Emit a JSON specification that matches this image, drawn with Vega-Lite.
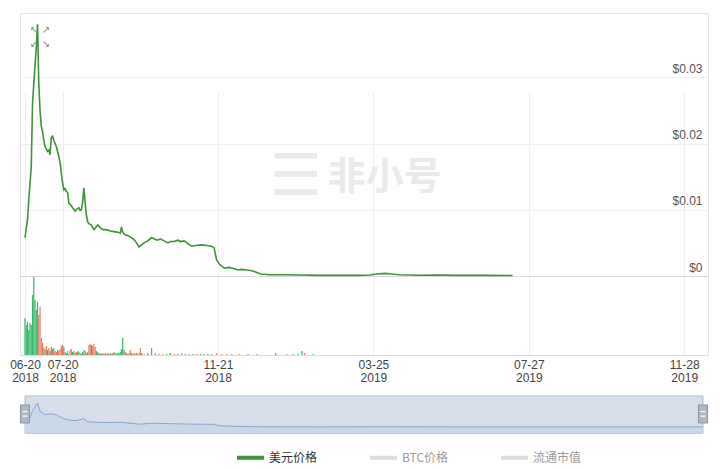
{
  "$schema": "https://vega.github.io/schema/vega-lite/v6.json",
  "width": 688,
  "height": 342,
  "autosize": {"type": "none"},
  "padding": {"left": 20, "top": 13, "right": 12, "bottom": 114},
  "background": "white",
  "config": {"view": {"stroke": "#e4e4e4"}, "font": "Liberation Sans"},
  "datasets": {
    "price": [
      {"date": "2018-06-20", "price": 0.0058}, {"date": "2018-06-21", "price": 0.0072}, {"date": "2018-06-22", "price": 0.0085},
      {"date": "2018-06-23", "price": 0.0115}, {"date": "2018-06-24", "price": 0.014}, {"date": "2018-06-25", "price": 0.0165},
      {"date": "2018-06-26", "price": 0.026}, {"date": "2018-06-27", "price": 0.029}, {"date": "2018-06-28", "price": 0.0317},
      {"date": "2018-06-29", "price": 0.0345}, {"date": "2018-06-30", "price": 0.038}, {"date": "2018-07-01", "price": 0.029},
      {"date": "2018-07-02", "price": 0.025}, {"date": "2018-07-03", "price": 0.0226}, {"date": "2018-07-04", "price": 0.0218},
      {"date": "2018-07-05", "price": 0.0205}, {"date": "2018-07-06", "price": 0.0195}, {"date": "2018-07-07", "price": 0.0192},
      {"date": "2018-07-08", "price": 0.0188}, {"date": "2018-07-09", "price": 0.019}, {"date": "2018-07-10", "price": 0.0183},
      {"date": "2018-07-11", "price": 0.0209}, {"date": "2018-07-12", "price": 0.0211}, {"date": "2018-07-13", "price": 0.0205},
      {"date": "2018-07-14", "price": 0.02}, {"date": "2018-07-15", "price": 0.0195}, {"date": "2018-07-16", "price": 0.0188},
      {"date": "2018-07-17", "price": 0.018}, {"date": "2018-07-18", "price": 0.0171}, {"date": "2018-07-19", "price": 0.0155},
      {"date": "2018-07-20", "price": 0.014}, {"date": "2018-07-21", "price": 0.013}, {"date": "2018-07-22", "price": 0.0132},
      {"date": "2018-07-23", "price": 0.0128}, {"date": "2018-07-24", "price": 0.0126}, {"date": "2018-07-25", "price": 0.011},
      {"date": "2018-07-26", "price": 0.0108}, {"date": "2018-07-27", "price": 0.0106}, {"date": "2018-07-28", "price": 0.0103},
      {"date": "2018-07-29", "price": 0.0101}, {"date": "2018-07-30", "price": 0.0098}, {"date": "2018-07-31", "price": 0.01},
      {"date": "2018-08-01", "price": 0.0102}, {"date": "2018-08-02", "price": 0.0103}, {"date": "2018-08-03", "price": 0.0099},
      {"date": "2018-08-04", "price": 0.01}, {"date": "2018-08-05", "price": 0.0112}, {"date": "2018-08-06", "price": 0.0133},
      {"date": "2018-08-07", "price": 0.011}, {"date": "2018-08-08", "price": 0.0092}, {"date": "2018-08-09", "price": 0.0082},
      {"date": "2018-08-10", "price": 0.0079}, {"date": "2018-08-12", "price": 0.0077}, {"date": "2018-08-14", "price": 0.007},
      {"date": "2018-08-15", "price": 0.0072}, {"date": "2018-08-17", "price": 0.0077}, {"date": "2018-08-19", "price": 0.0073},
      {"date": "2018-08-21", "price": 0.007}, {"date": "2018-08-24", "price": 0.007}, {"date": "2018-08-27", "price": 0.0068},
      {"date": "2018-08-30", "price": 0.0067}, {"date": "2018-09-02", "price": 0.0066}, {"date": "2018-09-04", "price": 0.0065},
      {"date": "2018-09-05", "price": 0.0074}, {"date": "2018-09-06", "price": 0.0066}, {"date": "2018-09-08", "price": 0.0062},
      {"date": "2018-09-10", "price": 0.0061}, {"date": "2018-09-12", "price": 0.0059}, {"date": "2018-09-15", "price": 0.0055},
      {"date": "2018-09-17", "price": 0.005}, {"date": "2018-09-19", "price": 0.0044}, {"date": "2018-09-21", "price": 0.0047},
      {"date": "2018-09-23", "price": 0.005}, {"date": "2018-09-26", "price": 0.0053}, {"date": "2018-09-29", "price": 0.0058},
      {"date": "2018-10-02", "price": 0.0055}, {"date": "2018-10-04", "price": 0.0054}, {"date": "2018-10-06", "price": 0.0056},
      {"date": "2018-10-09", "price": 0.0053}, {"date": "2018-10-12", "price": 0.005}, {"date": "2018-10-14", "price": 0.0052},
      {"date": "2018-10-17", "price": 0.0052}, {"date": "2018-10-20", "price": 0.0054}, {"date": "2018-10-22", "price": 0.0052},
      {"date": "2018-10-25", "price": 0.0053}, {"date": "2018-10-28", "price": 0.0049}, {"date": "2018-10-31", "price": 0.0045},
      {"date": "2018-11-03", "price": 0.0046}, {"date": "2018-11-08", "price": 0.0047}, {"date": "2018-11-12", "price": 0.0046},
      {"date": "2018-11-16", "price": 0.0045}, {"date": "2018-11-18", "price": 0.0042}, {"date": "2018-11-19", "price": 0.0032},
      {"date": "2018-11-20", "price": 0.0024}, {"date": "2018-11-22", "price": 0.0018}, {"date": "2018-11-24", "price": 0.0015},
      {"date": "2018-11-26", "price": 0.0012}, {"date": "2018-11-30", "price": 0.0013}, {"date": "2018-12-04", "price": 0.0011},
      {"date": "2018-12-07", "price": 0.0009}, {"date": "2018-12-10", "price": 0.001}, {"date": "2018-12-14", "price": 0.0009},
      {"date": "2018-12-18", "price": 0.0008}, {"date": "2018-12-21", "price": 0.0006}, {"date": "2018-12-25", "price": 0.0003},
      {"date": "2019-01-01", "price": 0.0002}, {"date": "2019-01-05", "price": 0.0002}, {"date": "2019-01-15", "price": 0.00018},
      {"date": "2019-01-26", "price": 0.00015}, {"date": "2019-02-11", "price": 0.0001}, {"date": "2019-02-26", "price": 0.0001},
      {"date": "2019-03-14", "price": 0.0001}, {"date": "2019-03-22", "price": 0.00015}, {"date": "2019-03-28", "price": 0.0003},
      {"date": "2019-04-03", "price": 0.0004}, {"date": "2019-04-08", "price": 0.0003}, {"date": "2019-04-15", "price": 0.0002},
      {"date": "2019-04-30", "price": 0.00012}, {"date": "2019-05-16", "price": 0.00015}, {"date": "2019-06-01", "price": 0.0001},
      {"date": "2019-06-24", "price": 0.0001}, {"date": "2019-07-14", "price": 0.00008}
    ],
    "volume": [
      {"date": "2018-06-20", "volume": 185000, "dir": "up"}, {"date": "2018-06-21", "volume": 150000, "dir": "up"},
      {"date": "2018-06-22", "volume": 165000, "dir": "up"}, {"date": "2018-06-23", "volume": 125000, "dir": "up"},
      {"date": "2018-06-24", "volume": 160000, "dir": "up"}, {"date": "2018-06-25", "volume": 150000, "dir": "up"},
      {"date": "2018-06-26", "volume": 300000, "dir": "up"}, {"date": "2018-06-27", "volume": 390000, "dir": "up"},
      {"date": "2018-06-28", "volume": 275000, "dir": "up"}, {"date": "2018-06-29", "volume": 225000, "dir": "up"},
      {"date": "2018-06-30", "volume": 265000, "dir": "up"}, {"date": "2018-07-01", "volume": 200000, "dir": "down"},
      {"date": "2018-07-02", "volume": 240000, "dir": "down"}, {"date": "2018-07-03", "volume": 85000, "dir": "down"},
      {"date": "2018-07-04", "volume": 60000, "dir": "down"}, {"date": "2018-07-05", "volume": 40000, "dir": "down"},
      {"date": "2018-07-06", "volume": 30000, "dir": "up"}, {"date": "2018-07-07", "volume": 45000, "dir": "down"},
      {"date": "2018-07-08", "volume": 25000, "dir": "up"}, {"date": "2018-07-09", "volume": 35000, "dir": "down"},
      {"date": "2018-07-10", "volume": 20000, "dir": "up"}, {"date": "2018-07-11", "volume": 40000, "dir": "up"},
      {"date": "2018-07-12", "volume": 30000, "dir": "down"}, {"date": "2018-07-13", "volume": 35000, "dir": "up"},
      {"date": "2018-07-14", "volume": 20000, "dir": "down"}, {"date": "2018-07-15", "volume": 15000, "dir": "down"},
      {"date": "2018-07-16", "volume": 25000, "dir": "up"}, {"date": "2018-07-17", "volume": 20000, "dir": "down"},
      {"date": "2018-07-18", "volume": 30000, "dir": "down"}, {"date": "2018-07-19", "volume": 45000, "dir": "down"},
      {"date": "2018-07-20", "volume": 50000, "dir": "down"}, {"date": "2018-07-21", "volume": 40000, "dir": "up"},
      {"date": "2018-07-22", "volume": 15000, "dir": "down"}, {"date": "2018-07-23", "volume": 10000, "dir": "up"},
      {"date": "2018-07-24", "volume": 20000, "dir": "down"}, {"date": "2018-07-25", "volume": 5000, "dir": "up"},
      {"date": "2018-07-26", "volume": 25000, "dir": "down"}, {"date": "2018-07-27", "volume": 30000, "dir": "down"},
      {"date": "2018-07-28", "volume": 15000, "dir": "up"}, {"date": "2018-07-29", "volume": 20000, "dir": "down"},
      {"date": "2018-07-30", "volume": 10000, "dir": "up"}, {"date": "2018-07-31", "volume": 15000, "dir": "down"},
      {"date": "2018-08-01", "volume": 20000, "dir": "down"}, {"date": "2018-08-02", "volume": 15000, "dir": "up"},
      {"date": "2018-08-03", "volume": 10000, "dir": "down"}, {"date": "2018-08-04", "volume": 5000, "dir": "up"},
      {"date": "2018-08-05", "volume": 15000, "dir": "up"}, {"date": "2018-08-06", "volume": 25000, "dir": "up"},
      {"date": "2018-08-07", "volume": 20000, "dir": "down"}, {"date": "2018-08-08", "volume": 10000, "dir": "up"},
      {"date": "2018-08-09", "volume": 15000, "dir": "down"}, {"date": "2018-08-10", "volume": 50000, "dir": "down"},
      {"date": "2018-08-11", "volume": 55000, "dir": "down"}, {"date": "2018-08-12", "volume": 50000, "dir": "up"},
      {"date": "2018-08-13", "volume": 45000, "dir": "down"}, {"date": "2018-08-14", "volume": 55000, "dir": "down"},
      {"date": "2018-08-15", "volume": 40000, "dir": "down"}, {"date": "2018-08-16", "volume": 20000, "dir": "up"},
      {"date": "2018-08-17", "volume": 15000, "dir": "down"}, {"date": "2018-08-18", "volume": 10000, "dir": "up"},
      {"date": "2018-08-19", "volume": 10000, "dir": "down"}, {"date": "2018-08-20", "volume": 5000, "dir": "up"},
      {"date": "2018-08-21", "volume": 10000, "dir": "down"}, {"date": "2018-08-22", "volume": 5000, "dir": "up"},
      {"date": "2018-08-23", "volume": 10000, "dir": "up"}, {"date": "2018-08-24", "volume": 5000, "dir": "down"},
      {"date": "2018-08-25", "volume": 10000, "dir": "down"}, {"date": "2018-08-26", "volume": 5000, "dir": "up"},
      {"date": "2018-08-27", "volume": 10000, "dir": "up"}, {"date": "2018-08-28", "volume": 5000, "dir": "down"},
      {"date": "2018-08-29", "volume": 10000, "dir": "down"}, {"date": "2018-08-30", "volume": 15000, "dir": "up"},
      {"date": "2018-08-31", "volume": 10000, "dir": "down"}, {"date": "2018-09-01", "volume": 5000, "dir": "up"},
      {"date": "2018-09-02", "volume": 10000, "dir": "down"}, {"date": "2018-09-03", "volume": 10000, "dir": "up"},
      {"date": "2018-09-04", "volume": 15000, "dir": "up"}, {"date": "2018-09-05", "volume": 30000, "dir": "up"},
      {"date": "2018-09-06", "volume": 85000, "dir": "up"}, {"date": "2018-09-07", "volume": 25000, "dir": "up"},
      {"date": "2018-09-08", "volume": 15000, "dir": "down"}, {"date": "2018-09-09", "volume": 10000, "dir": "down"},
      {"date": "2018-09-10", "volume": 5000, "dir": "up"}, {"date": "2018-09-11", "volume": 10000, "dir": "down"},
      {"date": "2018-09-12", "volume": 25000, "dir": "down"}, {"date": "2018-09-13", "volume": 10000, "dir": "up"},
      {"date": "2018-09-14", "volume": 5000, "dir": "down"}, {"date": "2018-09-15", "volume": 10000, "dir": "up"},
      {"date": "2018-09-16", "volume": 5000, "dir": "down"}, {"date": "2018-09-17", "volume": 10000, "dir": "down"},
      {"date": "2018-09-18", "volume": 5000, "dir": "up"}, {"date": "2018-09-19", "volume": 10000, "dir": "down"},
      {"date": "2018-09-20", "volume": 35000, "dir": "down"}, {"date": "2018-09-21", "volume": 10000, "dir": "up"},
      {"date": "2018-09-23", "volume": 5000, "dir": "down"}, {"date": "2018-09-26", "volume": 10000, "dir": "up"},
      {"date": "2018-09-29", "volume": 35000, "dir": "up"}, {"date": "2018-10-02", "volume": 10000, "dir": "down"},
      {"date": "2018-10-05", "volume": 5000, "dir": "up"}, {"date": "2018-10-08", "volume": 5000, "dir": "down"},
      {"date": "2018-10-11", "volume": 5000, "dir": "up"}, {"date": "2018-10-14", "volume": 10000, "dir": "up"},
      {"date": "2018-10-17", "volume": 5000, "dir": "down"}, {"date": "2018-10-20", "volume": 5000, "dir": "up"},
      {"date": "2018-10-23", "volume": 10000, "dir": "down"}, {"date": "2018-10-26", "volume": 5000, "dir": "up"},
      {"date": "2018-10-29", "volume": 5000, "dir": "down"}, {"date": "2018-11-01", "volume": 5000, "dir": "up"},
      {"date": "2018-11-04", "volume": 5000, "dir": "down"}, {"date": "2018-11-07", "volume": 5000, "dir": "up"},
      {"date": "2018-11-10", "volume": 5000, "dir": "down"}, {"date": "2018-11-13", "volume": 5000, "dir": "up"},
      {"date": "2018-11-16", "volume": 5000, "dir": "down"}, {"date": "2018-11-20", "volume": 10000, "dir": "down"},
      {"date": "2018-11-24", "volume": 5000, "dir": "up"}, {"date": "2018-11-28", "volume": 5000, "dir": "down"},
      {"date": "2018-12-02", "volume": 5000, "dir": "up"}, {"date": "2018-12-08", "volume": 5000, "dir": "down"},
      {"date": "2018-12-15", "volume": 5000, "dir": "up"}, {"date": "2018-12-22", "volume": 5000, "dir": "down"},
      {"date": "2019-01-06", "volume": 10000, "dir": "up"}, {"date": "2019-01-15", "volume": 5000, "dir": "down"},
      {"date": "2019-01-20", "volume": 5000, "dir": "up"}, {"date": "2019-01-24", "volume": 5000, "dir": "up"},
      {"date": "2019-01-27", "volume": 20000, "dir": "up"}, {"date": "2019-01-29", "volume": 10000, "dir": "down"},
      {"date": "2019-02-05", "volume": 5000, "dir": "up"}
    ],
    "nav": [
      {"date": "2018-06-20", "price": 0.0058}, {"date": "2018-06-24", "price": 0.014}, {"date": "2018-06-26", "price": 0.026},
      {"date": "2018-06-30", "price": 0.038}, {"date": "2018-07-02", "price": 0.025}, {"date": "2018-07-06", "price": 0.0195},
      {"date": "2018-07-11", "price": 0.0209}, {"date": "2018-07-15", "price": 0.0195}, {"date": "2018-07-20", "price": 0.014},
      {"date": "2018-07-25", "price": 0.011}, {"date": "2018-07-31", "price": 0.01}, {"date": "2018-08-06", "price": 0.0133},
      {"date": "2018-08-09", "price": 0.0082}, {"date": "2018-08-21", "price": 0.007}, {"date": "2018-09-05", "price": 0.0074},
      {"date": "2018-09-19", "price": 0.0044}, {"date": "2018-09-29", "price": 0.0058}, {"date": "2018-10-17", "price": 0.0052},
      {"date": "2018-10-31", "price": 0.0045}, {"date": "2018-11-18", "price": 0.0042}, {"date": "2018-11-22", "price": 0.0018},
      {"date": "2018-12-07", "price": 0.0009}, {"date": "2018-12-25", "price": 0.0003}, {"date": "2019-02-11", "price": 0.0001},
      {"date": "2019-04-03", "price": 0.0004}, {"date": "2019-06-01", "price": 0.0001}, {"date": "2019-08-15", "price": 0.0001},
      {"date": "2019-10-15", "price": 0.0001}, {"date": "2019-12-13", "price": 0.0001}
    ]
  },
  "layer": [
    {
      "data": {"values": [{"label": "☰"}]},
      "mark": {"type": "text", "fontSize": 58, "fill": "#e9eaec", "font": "DejaVu Sans", "align": "center", "baseline": "middle"},
      "encoding": {
        "x": {"datum": {"year": 2019, "month": 1, "date": 22, "utc": true}, "type": "temporal", "title": null},
        "y": {"datum": 0.0148, "type": "quantitative", "scale": {"domain": [0, 0.0397], "range": [263, 0], "nice": false, "zero": false}, "axis": null},
        "text": {"field": "label"}
      }
    },
    {
      "data": {"values": [{"label": "非小号"}]},
      "mark": {"type": "text", "fontSize": 38, "fontWeight": "bold", "fill": "#e9eaec", "font": "Noto Sans CJK SC", "align": "center", "baseline": "middle"},
      "encoding": {
        "x": {"datum": {"year": 2019, "month": 4, "date": 3, "utc": true}, "type": "temporal", "title": null},
        "y": {"datum": 0.0148, "type": "quantitative", "scale": {"domain": [0, 0.0397], "range": [263, 0], "nice": false, "zero": false}, "axis": null},
        "text": {"field": "label"}
      }
    },
    {
      "data": {"name": "volume"},
      "mark": {"type": "bar", "width": 1.2},
      "encoding": {
        "x": {"field": "date", "type": "temporal", "title": null},
        "y": {"field": "volume", "type": "quantitative", "scale": {"domain": [0, 390000], "range": [342, 264], "nice": false, "zero": false}, "axis": null},
        "color": {"field": "dir", "type": "nominal", "scale": {"domain": ["up", "down"], "range": ["#35b86a", "#ea7c62"]}, "legend": null}
      }
    },
    {
      "data": {"name": "price"},
      "mark": {"type": "line", "strokeWidth": 1.6},
      "encoding": {
        "x": {
          "field": "date", "type": "temporal", "title": null,
          "scale": {"type": "utc", "domain": [{"year": 2018, "month": 6, "date": 20, "utc": true}, {"year": 2019, "month": 12, "date": 13, "utc": true}]},
          "axis": {
            "values": [
              {"year": 2018, "month": 6, "date": 20, "utc": true},
              {"year": 2018, "month": 7, "date": 20, "utc": true},
              {"year": 2018, "month": 11, "date": 21, "utc": true},
              {"year": 2019, "month": 3, "date": 25, "utc": true},
              {"year": 2019, "month": 7, "date": 27, "utc": true},
              {"year": 2019, "month": 11, "date": 28, "utc": true}
            ],
            "labelExpr": "[utcFormat(datum.value, '%m-%d'), utcFormat(datum.value, '%Y')]",
            "grid": true, "gridColor": "#eeeeee", "domainColor": "#dddddd", "ticks": false,
            "labelPadding": 4, "labelFontSize": 12, "labelColor": "#444444", "labelLineHeight": 13,
            "labelFont": "Liberation Sans", "labelFlush": false, "labelOverlap": false, "labelAlign": "center"
          }
        },
        "y": {
          "field": "price", "type": "quantitative",
          "scale": {"domain": [0, 0.0397], "range": [263, 0], "nice": false, "zero": false},
          "axis": {
            "orient": "right", "title": null, "values": [0, 0.01, 0.02, 0.03],
            "labelExpr": "'$' + datum.value",
            "grid": true,
            "gridColor": {"condition": {"test": "datum.value === 0", "value": "#d9d9d9"}, "value": "#f0f0f0"},
            "domain": false, "ticks": false, "labelAlign": "right", "labelBaseline": "bottom",
            "labelPadding": -6, "labelOffset": -2, "labelFontSize": 12, "labelColor": "#555555", "labelFont": "Liberation Sans"
          }
        },
        "color": {
          "datum": "美元价格", "type": "nominal",
          "scale": {"domain": ["美元价格", "BTC价格", "流通市值"], "range": ["#41903a", "#d8dce4", "#d8dce4"]},
          "legend": {
            "orient": "none", "legendX": 215, "legendY": 429, "direction": "horizontal", "title": null,
            "symbolType": "M-1,0H1", "symbolSize": 729, "symbolStrokeWidth": 4,
            "labelFont": "Noto Sans CJK SC", "labelFontSize": 12, "labelOffset": 3, "columnPadding": 44, "padding": 0,
            "labelColor": "#999999",
            "encode": {"labels": {"update": {"fill": {"signal": "datum.label === '美元价格' ? '#333333' : '#9a9a9a'"}}}}
          }
        }
      }
    },
    {
      "data": {"values": [{"label": "nav"}]},
      "mark": {"type": "rect", "fill": "#d7dee9", "stroke": "#b3bdcb", "strokeWidth": 1},
      "encoding": {
        "x": {"datum": {"year": 2018, "month": 6, "date": 20, "utc": true}, "type": "temporal", "title": null},
        "x2": {"datum": {"year": 2019, "month": 12, "date": 13, "utc": true}},
        "y": {"datum": 0.049, "type": "quantitative", "scale": {"domain": [-0.01, 0.04], "range": [420.3, 388.7], "nice": false, "zero": false}, "axis": null},
        "y2": {"datum": -0.01}
      }
    },
    {
      "data": {"name": "nav"},
      "mark": {"type": "area", "fill": "#c8d6ea", "opacity": 0.8},
      "encoding": {
        "x": {"field": "date", "type": "temporal", "title": null},
        "y": {"field": "price", "type": "quantitative", "scale": {"domain": [-0.01, 0.04], "range": [420.3, 388.7], "nice": false, "zero": false}, "axis": null},
        "y2": {"datum": -0.0095}
      }
    },
    {
      "data": {"name": "nav"},
      "mark": {"type": "line", "stroke": "#86a6d3", "strokeWidth": 1},
      "encoding": {
        "x": {"field": "date", "type": "temporal", "title": null},
        "y": {"field": "price", "type": "quantitative", "scale": {"domain": [-0.01, 0.04], "range": [420.3, 388.7], "nice": false, "zero": false}, "axis": null}
      }
    },
    {
      "data": {"values": [{"label": "handle"}]},
      "encoding": {
        "x": {"datum": {"year": 2018, "month": 6, "date": 20, "utc": true}, "type": "temporal", "title": null},
        "y": {"datum": 0.0206, "type": "quantitative", "scale": {"domain": [-0.01, 0.04], "range": [420.3, 388.7], "nice": false, "zero": false}, "axis": null}
      },
      "layer": [
        {"mark": {"type": "point", "shape": "M-0.5,-1H0.5V1H-0.5Z", "size": 324, "filled": true, "fill": "#aeb7c4", "stroke": "#8c96a4", "strokeWidth": 1, "opacity": 1}},
        {"mark": {"type": "point", "shape": "M-0.28,-0.25H0.28M-0.28,0.25H0.28", "size": 324, "filled": false, "stroke": "#ffffff", "strokeWidth": 1.2, "opacity": 1}}
      ]
    },
    {
      "data": {"values": [{"label": "handle"}]},
      "encoding": {
        "x": {"datum": {"year": 2019, "month": 12, "date": 13, "utc": true}, "type": "temporal", "title": null},
        "y": {"datum": 0.0206, "type": "quantitative", "scale": {"domain": [-0.01, 0.04], "range": [420.3, 388.7], "nice": false, "zero": false}, "axis": null}
      },
      "layer": [
        {"mark": {"type": "point", "shape": "M-0.5,-1H0.5V1H-0.5Z", "size": 324, "filled": true, "fill": "#aeb7c4", "stroke": "#8c96a4", "strokeWidth": 1, "opacity": 1}},
        {"mark": {"type": "point", "shape": "M-0.28,-0.25H0.28M-0.28,0.25H0.28", "size": 324, "filled": false, "stroke": "#ffffff", "strokeWidth": 1.2, "opacity": 1}}
      ]
    },
    {
      "data": {"values": [{"label": "icon"}]},
      "mark": {"type": "text", "text": ["↖   ↗", "↙   ↘"], "fontSize": 10, "lineHeight": 14, "fill": "#808080", "font": "DejaVu Sans", "align": "center", "baseline": "middle"},
      "encoding": {
        "x": {"datum": {"year": 2018, "month": 7, "date": 2, "utc": true}, "type": "temporal", "title": null},
        "y": {"datum": 0.0371, "type": "quantitative", "scale": {"domain": [0, 0.0397], "range": [263, 0], "nice": false, "zero": false}, "axis": null}
      }
    }
  ],
  "resolve": {"scale": {"y": "independent", "color": "independent"}, "axis": {"y": "independent"}}
}
